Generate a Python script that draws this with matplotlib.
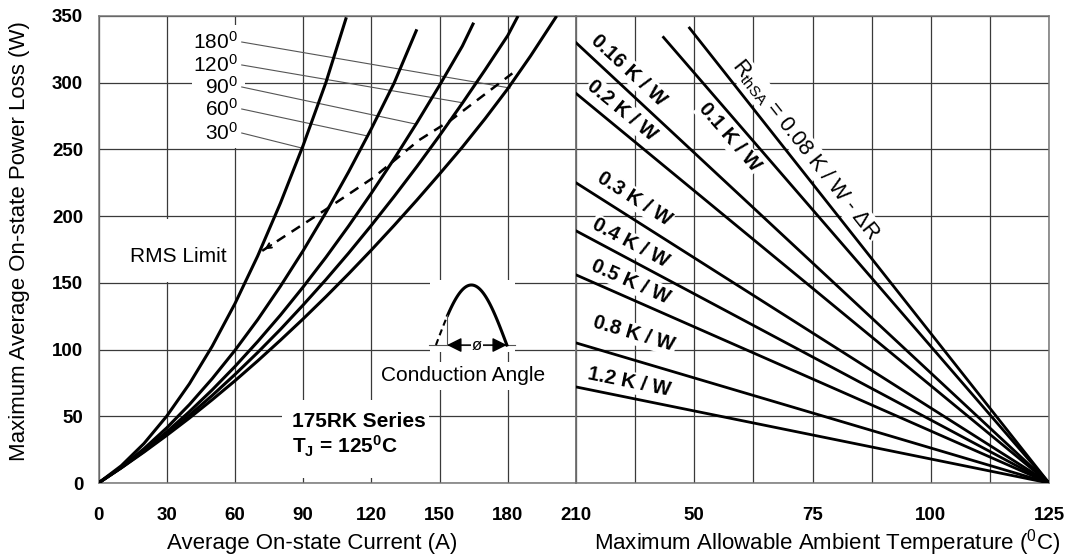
import numpy as np
import matplotlib.pyplot as plt
from matplotlib.patches import Rectangle

plt.rcParams['font.family'] = ['Liberation Sans', 'DejaVu Sans']
plt.rcParams['mathtext.fontset'] = 'custom'
plt.rcParams['mathtext.rm'] = 'Liberation Sans'
plt.rcParams['mathtext.it'] = 'Liberation Sans:italic'
plt.rcParams['mathtext.bf'] = 'Liberation Sans:bold'

# --- left panel: power loss vs average current per conduction angle ---
angles = ['180', '120', '90', '60', '30']
current_180 = [0, 10, 20, 30, 40, 50, 60, 70, 80, 90, 100, 110, 120, 130, 140,
               150, 160, 170, 180, 190, 201.5]
loss_180 = [0, 11.3, 23.2, 35.7, 48.7, 62.4, 76.6, 91.5, 107, 123, 139.6, 156.8,
            174.6, 193, 212, 231.6, 251.7, 273, 295.5, 320, 350]
current_120 = [0, 10, 20, 30, 40, 50, 60, 70, 80, 90, 100, 110, 120, 130, 140,
               150, 160, 170, 180, 184.5]
loss_120 = [0, 11.4, 23.7, 36.8, 50.8, 65.6, 81.3, 97.8, 115.1, 133.4, 152.4,
            172.3, 193.1, 214.7, 237.1, 260.4, 284.6, 309.6, 335.4, 350]
current_90 = [0, 10, 20, 30, 40, 50, 60, 70, 80, 90, 100, 110, 120, 130, 140,
              150, 160, 165]
loss_90 = [0, 11.6, 24.4, 38.3, 53.5, 69.8, 87.3, 106, 125.8, 146.9, 169.1,
           192.6, 217.2, 242.9, 269.9, 298.1, 327.4, 345]
current_60 = [0, 10, 20, 30, 40, 50, 60, 70, 80, 90, 100, 110, 120, 130, 140]
loss_60 = [0, 11.9, 25.7, 41.3, 58.8, 78.2, 99.4, 122.4, 147.4, 174.1, 202.7,
           233.2, 265.5, 299.7, 340]
current_30 = [0, 10, 20, 30, 40, 50, 60, 70, 80, 90, 100, 109]
loss_30 = [0, 12.9, 29.6, 50.1, 74.4, 102.5, 134.4, 170.1, 209.7, 253, 300.1, 349]

# RMS current limit
rms_current = [72, 100, 121, 141, 155, 182]
rms_loss = [174, 205, 229, 257, 272, 307]

# leader line end points on each curve (same order as angles)
leader_current = [181, 160, 139.5, 118.5, 89.5]
leader_loss = [296, 285, 269, 260, 251]

# --- right panel: heatsink thermal resistance lines ending at (125 C, 0 W) ---
rth = ['0.08', '0.1', '0.16', '0.2', '0.3', '0.4', '0.5', '0.8', '1.2']
start_temp = [49, 43.5, 25, 25, 25, 25, 25, 25, 25]
start_loss = [341, 334, 330, 292, 225, 189, 156, 105, 72]
end_temp = 125

left_xticks = [0, 30, 60, 90, 120, 150, 180, 210]
right_xticks = [25, 37.5, 50, 62.5, 75, 87.5, 100, 112.5, 125]
right_xlabels = ['', '', '50', '', '75', '', '100', '', '125']
yticks = [0, 50, 100, 150, 200, 250, 300, 350]

W, H = 1073, 557
fig = plt.figure(figsize=(W / 100, H / 100), dpi=100)
ax1 = fig.add_axes([98.5 / W, 1 - 483 / H, (576 - 98.5) / W, 467 / H])
ax2 = fig.add_axes([576 / W, 1 - 483 / H, (1049 - 576) / W, 467 / H])

grid_kw = dict(color='#3a3a3a', lw=0.9)
for ax in (ax1, ax2):
    ax.set_ylim(0, 350)
    ax.set_yticks(yticks)
    ax.set_axisbelow(True)
    ax.grid(True, **grid_kw)
    ax.tick_params(length=0)
    for sp in ax.spines.values():
        sp.set_color('#777777')
        sp.set_linewidth(1.1)

tick_font = dict(fontsize=13.5, fontweight='bold')
ax1.set_xlim(0, 210)
ax1.set_xticks(left_xticks)
ax1.set_xticklabels([str(v) for v in left_xticks], **tick_font)
ax1.set_yticklabels([str(v) for v in yticks], **tick_font)
ax1.tick_params(axis='y', pad=11)
ax1.tick_params(axis='x', pad=17)

ax2.set_xlim(25, 125)
ax2.set_xticks(right_xticks)
ax2.set_xticklabels(right_xlabels, **tick_font)
ax2.set_yticklabels([])
ax2.tick_params(axis='x', pad=17)

# curves
curve_kw = dict(color='black', lw=2.2, solid_capstyle='butt',
                solid_joinstyle='round', zorder=3)
ax1.plot(current_180, loss_180, **curve_kw)
ax1.plot(current_120, loss_120, **curve_kw)
ax1.plot(current_90, loss_90, **curve_kw)
ax1.plot(current_60, loss_60, **curve_kw)
ax1.plot(current_30, loss_30, **curve_kw)

ax1.plot(rms_current, rms_loss, color='black', lw=1.8, ls=(0, (4, 3)), zorder=3)
ax1.annotate('', xy=(rms_current[0], rms_loss[0]),
             xytext=(rms_current[0] + 5, rms_loss[0] + 5.5),
             arrowprops=dict(arrowstyle='->', lw=1.4, color='black',
                             mutation_scale=9), zorder=3)

# white patches where the labels interrupt the grid
ax1.add_patch(Rectangle((41, 251), 23.5, 92, fc='white', ec='none', zorder=1))
ax1.add_patch(Rectangle((9.5, 151), 38, 47, fc='white', ec='none', zorder=1))
ax1.add_patch(Rectangle((80.5, 4), 65, 58, fc='white', ec='none', zorder=1))
ax1.add_patch(Rectangle((146, 98), 37, 54, fc='white', ec='none', zorder=1))

# angle labels with leader lines
label_loss = [330.5, 313.3, 296.8, 280.3, 262.3]
for a, yl, xe, ye in zip(angles, label_loss, leader_current, leader_loss):
    ax1.text(61.3, yl, a + r'$^\mathregular{0}$', fontsize=15, ha='right',
             va='center', zorder=4)
    ax1.plot([63.0, xe], [yl, ye], color='#555555', lw=0.8, zorder=2)

ax1.text(35, 170, 'RMS Limit', fontsize=15, ha='center', va='center', zorder=4)
ax1.text(85.2, 46, '175RK Series', fontsize=15, fontweight='bold',
         ha='left', va='center', zorder=4)
ax1.text(85.2, 27.4, r'T$_\mathregular{J}$ = 125$^\mathregular{0}$C', fontsize=15,
         fontweight='bold', ha='left', va='center', zorder=4)
ax1.text(160.3, 80.2, 'Conduction Angle', fontsize=15, ha='center', va='center',
         zorder=4, bbox=dict(fc='white', ec='none', pad=3))

# conduction angle sketch (half sine wave)
x0, x1, base, amp, xs = 148.4, 179.6, 103.4, 45, 153.3
t = np.linspace(0, 1, 80)
wx = x0 + (x1 - x0) * t
wy = base + amp * np.sin(np.pi * t)
solid = wx >= xs
ax1.plot(wx[solid], wy[solid], color='black', lw=2.2, zorder=3)
ax1.plot(wx[~solid], wy[~solid], color='black', lw=1.5, ls=(0, (3, 2)), zorder=3)
ax1.plot([xs, xs], [base, wy[solid][0]], color='#555555', lw=0.8, zorder=3)
ax1.plot([145.5, 183], [base, base], color='#555555', lw=0.8, zorder=2)
ax1.annotate('', xy=(xs, base), xytext=(x1, base),
             arrowprops=dict(arrowstyle='<|-|>', lw=1, color='black',
                             mutation_scale=22, shrinkA=0, shrinkB=0), zorder=3)
ax1.text((xs + x1) / 2, base, '\u00f8', fontsize=12, ha='center', va='center',
         zorder=4, bbox=dict(fc='white', ec='none', pad=0.5))

# thermal resistance lines
for r, t0, p0 in zip(rth, start_temp, start_loss):
    ax2.plot([t0, end_temp], [p0, 0], color='black', lw=2.0, zorder=3)


def line_angle(ax, xa, ya, xb, yb):
    (a, b), (c, d) = ax.transData.transform([(xa, ya), (xb, yb)])
    return np.degrees(np.arctan2(d - b, c - a))


label_spots = [(73.5, 250), (57.4, 259), (36.2, 309.5), (34.8, 279), (37.4, 213),
               (36.5, 179.7), (36.5, 151), (37.3, 111.7), (36.2, 75.5)]
for r, t0, p0, (tx, ty) in zip(rth, start_temp, start_loss, label_spots):
    rot = line_angle(ax2, t0, p0, end_temp, 0)
    if r == '0.08':
        txt = r'R$_\mathregular{thSA}$ = 0.08 K / W - $\Delta$R'
        weight, size = 'normal', 15.5
    else:
        txt = r + ' K / W'
        weight, size = 'bold', 14.5
    ax2.text(tx, ty, txt, fontsize=size, fontweight=weight, rotation=rot,
             rotation_mode='anchor', ha='center', va='center', zorder=4,
             bbox=dict(fc='white', ec='none', pad=1))

fig.text(312 / W, 1 - 543 / H, 'Average On-state Current (A)', fontsize=16,
         ha='center', va='center')
fig.text(827 / W, 1 - 543 / H,
         r'Maximum Allowable Ambient Temperature ($^\mathregular{0}$C)',
         fontsize=16, ha='center', va='center')
fig.text(20 / W, 1 - 241 / H, 'Maximum Average On-state Power Loss (W)',
         fontsize=16, rotation=90, ha='center', va='center')

fig.savefig('out.png', dpi=100)
